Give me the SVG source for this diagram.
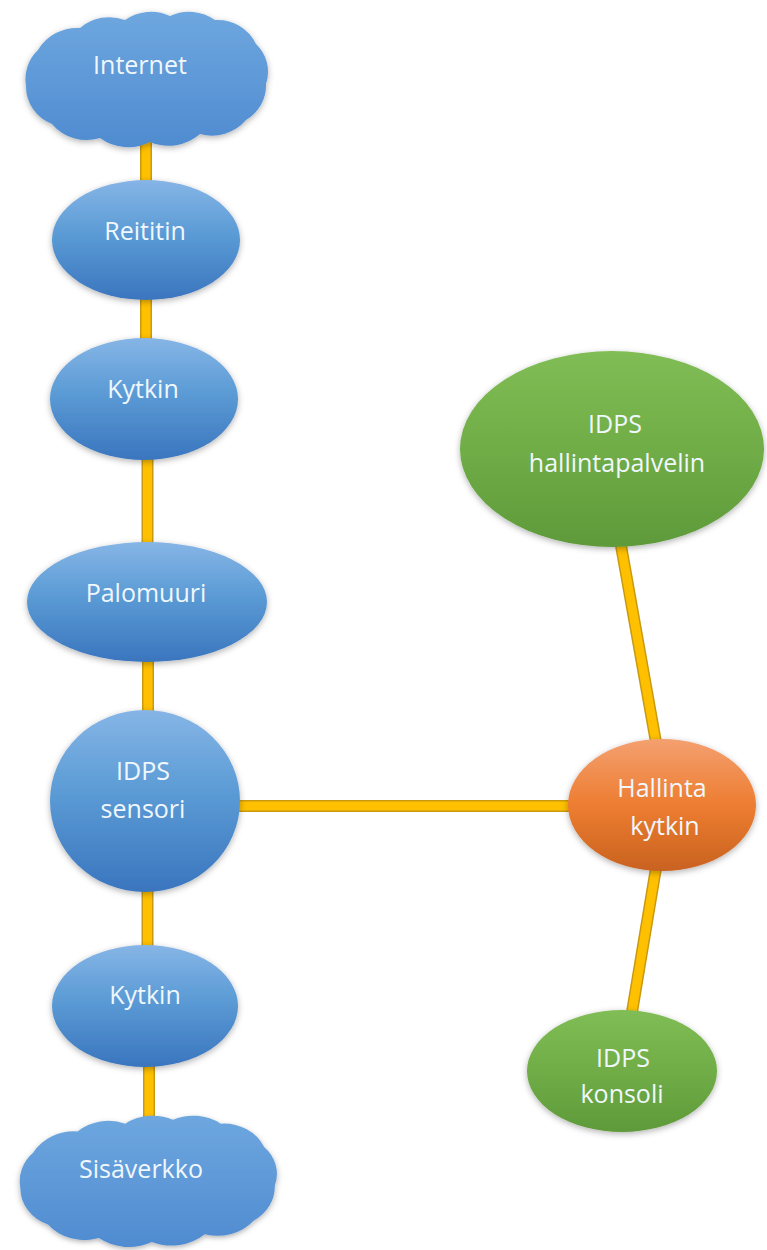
<svg xmlns="http://www.w3.org/2000/svg" width="767" height="1250" viewBox="0 0 767 1250">
  <style>
    .edge-o { stroke: #c99a10; stroke-width: 12; fill: none; stroke-linecap: butt; }
    .edge-i { stroke: #ffc000; stroke-width: 9; fill: none; stroke-linecap: butt; }
    .lbl { font-family: "Open Sans", "Liberation Sans", sans-serif; font-size: 25px; fill: #f0f7fd; text-anchor: middle; }
    .blue { fill: url(#gBlue); filter: url(#sh); }
    .cloud { fill: url(#gCloud); filter: url(#sh); }
    .green { fill: url(#gGreen); filter: url(#sh); }
    .orange { fill: url(#gOrange); filter: url(#sh); }
  </style>
  <defs>
    <linearGradient id="gBlue" x1="0" y1="0" x2="0" y2="1">
      <stop offset="0" stop-color="#86b5e6"/>
      <stop offset="0.45" stop-color="#5b9bd5"/>
      <stop offset="1" stop-color="#3a75be"/>
    </linearGradient>
    <linearGradient id="gCloud" x1="0" y1="0" x2="0" y2="1">
      <stop offset="0" stop-color="#6ea7df"/>
      <stop offset="1" stop-color="#4f8bd0"/>
    </linearGradient>
    <linearGradient id="gGreen" x1="0" y1="0" x2="0" y2="1">
      <stop offset="0" stop-color="#80bd55"/>
      <stop offset="0.5" stop-color="#70ad47"/>
      <stop offset="1" stop-color="#5e9a3a"/>
    </linearGradient>
    <linearGradient id="gOrange" x1="0" y1="0" x2="0" y2="1">
      <stop offset="0" stop-color="#f4a070"/>
      <stop offset="0.5" stop-color="#ed7d31"/>
      <stop offset="1" stop-color="#c9621f"/>
    </linearGradient>
    <filter id="sh" x="-10%" y="-10%" width="120%" height="125%">
      <feDropShadow dx="0" dy="2" stdDeviation="3" flood-color="#000" flood-opacity="0.3"/>
    </filter>
    <path id="cloud" d="M6 78 A40 40 0 0 1 18 42 A45 45 0 0 1 60 20 A45 45 0 0 1 105 12 A45 45 0 0 1 150 8 A45 45 0 0 1 195 12 A42 42 0 0 1 236 36 A38 38 0 0 1 246 76 A40 40 0 0 1 226 112 A45 45 0 0 1 180 126 A48 48 0 0 1 130 134 A48 48 0 0 1 80 130 A45 45 0 0 1 32 116 A40 40 0 0 1 6 78 Z"/>
  </defs>

  <g id="connectors">
    <line class="edge-o" x1="146" y1="140" x2="146" y2="185"/>
    <line class="edge-i" x1="146" y1="140" x2="146" y2="185"/>
    <line class="edge-o" x1="146" y1="295" x2="146" y2="343"/>
    <line class="edge-i" x1="146" y1="295" x2="146" y2="343"/>
    <line class="edge-o" x1="147.5" y1="455" x2="147.5" y2="547"/>
    <line class="edge-i" x1="147.5" y1="455" x2="147.5" y2="547"/>
    <line class="edge-o" x1="148" y1="657" x2="148" y2="715"/>
    <line class="edge-i" x1="148" y1="657" x2="148" y2="715"/>
    <line class="edge-o" x1="147.5" y1="888" x2="147.5" y2="950"/>
    <line class="edge-i" x1="147.5" y1="888" x2="147.5" y2="950"/>
    <line class="edge-o" x1="149" y1="1063" x2="149" y2="1120"/>
    <line class="edge-i" x1="149" y1="1063" x2="149" y2="1120"/>
    <line class="edge-o" x1="235" y1="806" x2="575" y2="806"/>
    <line class="edge-i" x1="235" y1="806" x2="575" y2="806"/>
    <line class="edge-o" x1="620" y1="540" x2="657" y2="748"/>
    <line class="edge-i" x1="620" y1="540" x2="657" y2="748"/>
    <line class="edge-o" x1="657" y1="862" x2="631" y2="1018"/>
    <line class="edge-i" x1="657" y1="862" x2="631" y2="1018"/>
  </g>

  <g id="internet">
    <use href="#cloud" class="cloud" transform="translate(20 8)"/>
    <text class="lbl" x="140" y="74">Internet</text>
  </g>
  <g id="reititin">
    <ellipse class="blue" cx="146" cy="240" rx="94" ry="60"/>
    <text class="lbl" x="145" y="240">Reititin</text>
  </g>
  <g id="kytkin1">
    <ellipse class="blue" cx="144" cy="399" rx="94" ry="61"/>
    <text class="lbl" x="143" y="398">Kytkin</text>
  </g>
  <g id="palomuuri">
    <ellipse class="blue" cx="147" cy="602" rx="120" ry="60"/>
    <text class="lbl" x="146" y="602">Palomuuri</text>
  </g>
  <g id="sensori">
    <ellipse class="blue" cx="145" cy="801" rx="95" ry="91"/>
    <text class="lbl" x="143" y="780">IDPS</text>
    <text class="lbl" x="143" y="818">sensori</text>
  </g>
  <g id="kytkin2">
    <ellipse class="blue" cx="145" cy="1006" rx="93" ry="61"/>
    <text class="lbl" x="145" y="1004">Kytkin</text>
  </g>
  <g id="sisaverkko">
    <use href="#cloud" class="cloud" transform="translate(14 1112) scale(1.06 0.97)"/>
    <text class="lbl" x="141" y="1178">Sisäverkko</text>
  </g>
  <g id="hallintapalvelin">
    <ellipse class="green" cx="612" cy="449" rx="152" ry="98"/>
    <text class="lbl" x="615" y="433">IDPS</text>
    <text class="lbl" x="617" y="472">hallintapalvelin</text>
  </g>
  <g id="hallinta">
    <ellipse class="orange" cx="662" cy="805" rx="94" ry="66"/>
    <text class="lbl" x="662" y="797">Hallinta</text>
    <text class="lbl" x="665" y="835">kytkin</text>
  </g>
  <g id="konsoli">
    <ellipse class="green" cx="622" cy="1071" rx="95" ry="61"/>
    <text class="lbl" x="623" y="1067">IDPS</text>
    <text class="lbl" x="622" y="1103">konsoli</text>
  </g>
</svg>
